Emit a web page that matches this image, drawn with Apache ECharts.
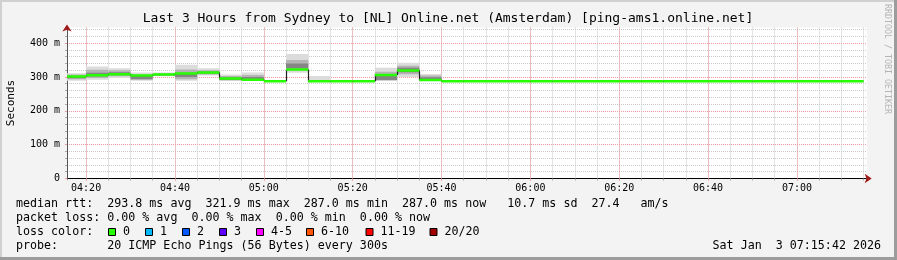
<!DOCTYPE html>
<html><head><meta charset="utf-8">
<script src="https://cdn.jsdelivr.net/npm/echarts@6/dist/echarts.min.js"></script>
<style>html,body{margin:0;padding:0;background:#f3f3f3}#c{width:897px;height:260px}</style>
</head><body><div id="c"></div><script>
// ---- data ----
const intervalStarts = ['04:15','04:20','04:25','04:30','04:35','04:40','04:45','04:50','04:55',
  '05:00','05:05','05:10','05:15','05:20','05:25','05:30','05:35','05:40','05:45','05:50','05:55',
  '06:00','06:05','06:10','06:15','06:20','06:25','06:30','06:35','06:40','06:45','06:50','06:55',
  '07:00','07:05','07:10'];
const stepMinutes = 5;
const medianMs = [301,305,308,304,307,310,313,295,292,287,321.9,287,287,287,306,319,291,
  287,287,287,287,287,287,287,287,287,287,287,287,287,287,287,287,287,287,287];
const smokeOuterLo = [289,292,297,289,302,289,304,288,289,null,312,289,null,null,288,300,289];
const smokeOuterHi = [311,331,326,313,313,336,326,307,313,null,368,303,null,null,327,342,309];
const smokeMidLo   = [293,297,302,291,304,293,307,290,291,null,320,null,null,null,290,308,290];
const smokeMidHi   = [307,321,320,307,311,322,320,303,306,null,350,null,null,null,315,333,304];
const smokeInnerLo = [296,301,305,294,305,300,310,292,294,null,326,null,null,null,291,314,292];
const smokeInnerHi = [302,312,314,303,309,312,316,299,300,null,340,null,null,null,304,327,299];
const yTicks = [0,100,200,300,400];
const titleText = 'Last 3 Hours from Sydney to [NL] Online.net (Amsterdam) [ping-ams1.online.net]';
const legendLines = [
  'median rtt:  293.8 ms avg  321.9 ms max  287.0 ms min  287.0 ms now   10.7 ms sd  27.4   am/s',
  'packet loss: 0.00 % avg  0.00 % max  0.00 % min  0.00 % now',
  'loss color:',
  'probe:       20 ICMP Echo Pings (56 Bytes) every 300s'
];
const lossLabels = ['0','1','2','3','4-5','6-10','11-19','20/20'];
const lossColors = ['#26ff00','#00b8ff','#0059ff','#5e00ff','#ff00ff','#ff5500','#ff0000','#a10000'];
const dateText = 'Sat Jan  3 07:15:42 2026';
const watermark = 'RRDTOOL / TOBI OETIKER';
const rangeStart = '04:15:42', rangeEnd = '07:15:42';

// ---- helpers ----
function toMin(s){ const p = s.split(':').map(Number); return (p[0]-4)*60 + p[1] + (p[2]||0)/60; }
const X_MIN = toMin(rangeStart), X_MAX = toMin(rangeEnd);
function fmtTime(v){
  const r = v/20; if (Math.abs(r-Math.round(r))>1e-6) return '';
  const tot = Math.round(v) + 240; const h = Math.floor(tot/60), m = tot%60;
  return String(h).padStart(2,'0')+':'+String(m).padStart(2,'0');
}
const MONO = 'DejaVu Sans Mono';

const smokeData = [];
intervalStarts.forEach((s,i)=>{
  if (i < smokeOuterLo.length && smokeOuterLo[i] != null){
    const t0 = toMin(s);
    smokeData.push([t0, t0+stepMinutes, smokeOuterLo[i], smokeOuterHi[i],
      smokeMidLo[i]==null?NaN:smokeMidLo[i], smokeMidHi[i]==null?NaN:smokeMidHi[i],
      smokeInnerLo[i]==null?NaN:smokeInnerLo[i], smokeInnerHi[i]==null?NaN:smokeInnerHi[i]]);
  }
});
const medianSeg = intervalStarts.map((s,i)=>{
  const t0=toMin(s);
  const next = i+1<medianMs.length ? medianMs[i+1] : medianMs[i];
  return [t0, t0+stepMinutes, medianMs[i], next];
});

const smokeColors = ['#dcdcdc','#b4b4b4','#858585'];

// ---- graphics (text / frame) ----
const graphics = [
  {type:'rect', shape:{x:0,y:0,width:897,height:2}, style:{fill:'#d0d0d0'}, silent:true},
  {type:'rect', shape:{x:0,y:0,width:2,height:260}, style:{fill:'#d0d0d0'}, silent:true},
  {type:'rect', shape:{x:894,y:0,width:3,height:260}, style:{fill:'#9c9c9c'}, silent:true},
  {type:'rect', shape:{x:0,y:257,width:897,height:3}, style:{fill:'#9c9c9c'}, silent:true},
  {type:'text', style:{text:titleText, x:448, y:19, font:'13px "'+MONO+'"', fill:'#000', textAlign:'center', textVerticalAlign:'middle'}},
  {type:'text', rotation:Math.PI/2, x:11, y:103, style:{text:'Seconds', x:0, y:0, font:'11px "'+MONO+'"', fill:'#000', textAlign:'center', textVerticalAlign:'middle'}},
  {type:'text', rotation:-Math.PI/2, x:887, y:59, style:{text:watermark, x:0, y:0, font:'8.3px "'+MONO+'"', fill:'#b4b4b4', textAlign:'center', textVerticalAlign:'middle'}},
  {type:'text', style:{text:dateText, x:881, y:246, font:'11.67px "'+MONO+'"', fill:'#000', textAlign:'right', textVerticalAlign:'middle'}}
];
const lineY = [204,218,232,246];
legendLines.forEach((t,i)=>graphics.push({type:'text', style:{text:t, x:16, y:lineY[i], font:'11.67px "'+MONO+'"', fill:'#000', textAlign:'left', textVerticalAlign:'middle'}}));
const lossBoxX = [108.5,145.5,182.5,219.5,256.5,306.5,366,430];
lossLabels.forEach((l,i)=>{
  graphics.push({type:'rect', shape:{x:lossBoxX[i], y:228.5, width:7, height:7}, style:{fill:lossColors[i], stroke:'#000', lineWidth:1}});
  graphics.push({type:'text', style:{text:l, x:lossBoxX[i]+14.5, y:232, font:'11.67px "'+MONO+'"', fill:'#000', textAlign:'left', textVerticalAlign:'middle'}});
});

const chart = echarts.init(document.getElementById('c'), null, {renderer:'canvas'});
const minorGrid = {color:'#cacaca', type:[1,1], width:1};
const majorGrid = {color:'#f29a9a', type:[1,1], width:1};
chart.setOption({
  animation:false,
  backgroundColor:'#f3f3f3',
  grid:{left:67, right:30.3, top:27.5, bottom:81.5, show:true, backgroundColor:'#ffffff', borderWidth:0, containLabel:false, outerBoundsMode:'none'},
  xAxis:[
    {type:'value', min:X_MIN, max:X_MAX, position:'bottom', splitNumber:36, minInterval:5, maxInterval:5,
     axisLine:{show:true, onZero:false, symbol:['none','arrow'], symbolSize:[7,7], symbolOffset:[0,5], lineStyle:{color:'#a01818', width:1}},
     axisTick:{show:true, length:2, lineStyle:{color:'#aaaaaa'}}, axisLabel:{show:false},
     splitLine:{show:true, showMinLine:false, showMaxLine:false, lineStyle:minorGrid}},
    {type:'value', min:X_MIN, max:X_MAX, position:'bottom', splitNumber:9, minInterval:20, maxInterval:20,
     axisLine:{show:true, onZero:false, lineStyle:{color:'#000', width:1}},
     axisTick:{show:true, length:2, lineStyle:{color:'#f29a9a'}},
     axisLabel:{formatter:fmtTime, fontFamily:MONO, fontSize:10, color:'#000', margin:5, showMinLabel:false, showMaxLabel:false},
     splitLine:{show:true, showMinLine:false, showMaxLine:false, lineStyle:majorGrid}}
  ],
  yAxis:[
    {type:'value', min:0, max:446, interval:20, position:'left',
     axisLine:{show:true, onZero:false, symbol:['none','arrow'], symbolSize:[7,7], symbolOffset:[0,3], lineStyle:{color:'#a01818', width:1}},
     axisTick:{show:true, length:2, lineStyle:{color:'#aaaaaa'}}, axisLabel:{show:false},
     splitLine:{show:true, showMinLine:false, showMaxLine:false, lineStyle:minorGrid}},
    {type:'value', min:0, max:446, interval:100, position:'left',
     axisLine:{show:true, onZero:false, lineStyle:{color:'#555555', width:1}},
     axisTick:{show:true, length:2, lineStyle:{color:'#f29a9a'}},
     axisLabel:{formatter:v=> yTicks.indexOf(v)<0 ? '' : (v===0?'0':v+' m'), fontFamily:MONO, fontSize:10, color:'#000', margin:7, showMaxLabel:false},
     splitLine:{show:true, showMinLine:false, showMaxLine:false, lineStyle:majorGrid}}
  ],
  series:[
    {type:'custom', xAxisIndex:1, yAxisIndex:1, clip:true, encode:{x:[0,1], y:[2,3]}, data:smokeData,
     renderItem:(params, api)=>{
       const t0 = Math.max(api.value(0), X_MIN), t1 = api.value(1);
       const children = [];
       [[2,3],[4,5],[6,7]].forEach((d,k)=>{
         const lo = api.value(d[0]), hi = api.value(d[1]);
         if (lo==null || isNaN(lo) || hi==null || isNaN(hi)) return;
         const a = api.coord([t0, hi]), b = api.coord([t1, lo]);
         children.push({type:'rect', shape:{x:a[0], y:a[1], width:b[0]-a[0], height:b[1]-a[1]}, style:{fill:smokeColors[k]}});
       });
       return {type:'group', children};
     }},
    {type:'custom', xAxisIndex:1, yAxisIndex:1, clip:true, encode:{x:[0,1], y:[2,3]}, data:medianSeg,
     renderItem:(params, api)=>{
       const t0 = Math.max(api.value(0), X_MIN), t1 = api.value(1), v = api.value(2), vn = api.value(3);
       const a = api.coord([t0, v]), b = api.coord([t1, v]), c = api.coord([t1, vn]);
       const xe = Math.round(b[0]) + 0.5;
       return {type:'group', children:[
         {type:'line', shape:{x1:a[0], y1:a[1], x2:b[0], y2:b[1]}, style:{stroke:'#202020', lineWidth:1}},
         {type:'line', shape:{x1:xe, y1:b[1], x2:xe, y2:c[1]}, style:{stroke:'#202020', lineWidth:1.2}},
         {type:'rect', shape:{x:a[0], y:a[1]-1.25, width:b[0]-a[0], height:2.5}, style:{fill:lossColors[0]}}
       ]};
     }}
  ],
  graphic:graphics
});
</script></body></html>
